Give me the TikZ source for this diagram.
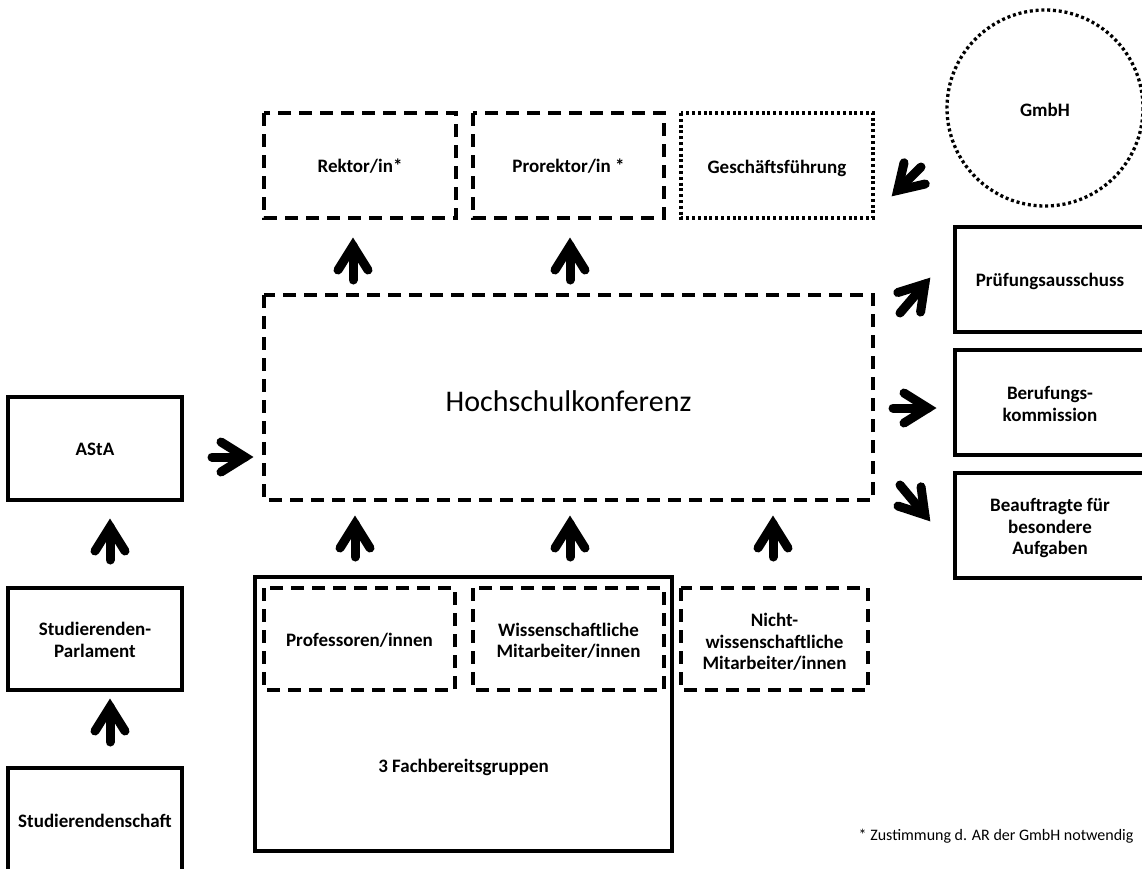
\documentclass[tikz,border=0pt]{standalone}
\usepackage{fontspec}
\setmainfont{Carlito}
\usetikzlibrary{calc}
\newcommand\blockarr[2]{%
  \coordinate (tipc) at ($(#2)!8pt!(#1)$);
  \coordinate (barbc) at ($(tipc)!24pt!(#1)$);
  \draw[blkline,line cap=round] (#1) -- (tipc);
  \draw[blkline,line cap=round,line join=miter] ($(barbc)!15pt!90:(tipc)$) -- (tipc) -- ($(barbc)!15pt!-90:(tipc)$);
}
\begin{document}
\begin{tikzpicture}[x=1pt,y=-1pt,
  box/.style={draw,line width=3.3pt},
  lbl/.style={align=center,font=\bfseries\fontsize{19}{21.5}\selectfont},
  dbox/.style={box,dash pattern=on 13pt off 8pt},
  obox/.style={box,dash pattern=on 3pt off 2.8pt},
  blkline/.style={line width=9pt}
]
\useasboundingbox (0,0) rectangle (1142,868);
\begin{scope}
\clip (0,0) rectangle (1142,868);
% top row
\draw[dbox] (264,113) rectangle (456,218);
\node[lbl] (rek) at (360,166) {Rektor/in*};
\draw[dbox] (473,113) rectangle (664,218);
\node[lbl] (pro) at (568.5,166) {Prorektor/in *};
\draw[obox] (681,113) rectangle (873,218);
\node[lbl] (gf) at (777,168) {Geschäftsführung};
% GmbH
\draw[line width=3.3pt,dash pattern=on 3pt off 2.8pt] (1045,108) circle (98);
\node[lbl] (gmbh) at (1045,110) {GmbH};
% Hochschulkonferenz
\draw[dbox] (264,295) rectangle (873,500);
\node[font=\fontsize{30}{34}\selectfont] (hk) at (568.5,401) {Hochschulkonferenz};
% left column
\draw[box] (8,397) rectangle (182,500);
\node[lbl] (asta) at (95,449) {AStA};
\draw[box] (8,588) rectangle (182,690);
\node[lbl] (sp) at (95,640) {Studierenden-\\Parlament};
\draw[box] (8,768) rectangle (182,880);
\node[lbl] (ss) at (95,821) {Studierendenschaft};
% Fachbereichsgruppen
\draw[box] (255,577) rectangle (672,851);
\node[lbl] (fb) at (463.5,767) {3 Fachbereitsgruppen};
\draw[dbox] (264,588) rectangle (455,690);
\node[lbl] (prof) at (359.5,640) {Professoren/innen};
\draw[dbox] (473,588) rectangle (664,690);
\node[lbl] (wm) at (568.5,641) {Wissenschaftliche\\Mitarbeiter/innen};
\draw[dbox] (681,588) rectangle (868,690);
\node[lbl] (nwm) at (774.5,642) {Nicht-\\wissenschaftliche\\Mitarbeiter/innen};
% right boxes
\draw[box] (955,227) rectangle (1160,332);
\node[lbl] (pa) at (1050,281) {Prüfungsausschuss};
\draw[box] (955,350) rectangle (1160,455);
\node[lbl] (bk) at (1050,404) {Berufungs-\\kommission};
\draw[box] (955,473) rectangle (1160,578);
\node[lbl] (bfa) at (1050,528) {Beauftragte für\\besondere\\Aufgaben};
\end{scope}
% footnote
\node[anchor=east,font=\fontsize{16}{19}\selectfont] (fn) at (1137,836) {* Zustimmung d. AR der GmbH notwendig};
% arrows
\coordinate (a1s) at (353,280); \coordinate (a1e) at (353,238);
\coordinate (a2s) at (570,280); \coordinate (a2e) at (570,238);
\blockarr{a1s}{a1e}
\blockarr{a2s}{a2e}
\coordinate (b1s) at (355,557); \coordinate (b1e) at (355,516);
\coordinate (b2s) at (570,557); \coordinate (b2e) at (570,516);
\coordinate (b3s) at (773,557); \coordinate (b3e) at (773,516);
\blockarr{b1s}{b1e}
\blockarr{b2s}{b2e}
\blockarr{b3s}{b3e}
\coordinate (c1s) at (110,560); \coordinate (c1e) at (110,519);
\coordinate (c2s) at (110,742); \coordinate (c2e) at (110,699);
\blockarr{c1s}{c1e}
\blockarr{c2s}{c2e}
\coordinate (d1s) at (212,457); \coordinate (d1e) at (253,457);
\blockarr{d1s}{d1e}
\coordinate (e1s) at (900,313); \coordinate (e1e) at (930,278);
\coordinate (e2s) at (893,408); \coordinate (e2e) at (936,408);
\coordinate (e3s) at (900,485); \coordinate (e3e) at (930,521);
\blockarr{e1s}{e1e}
\blockarr{e2s}{e2e}
\blockarr{e3s}{e3e}
\coordinate (gs) at (921,167); \coordinate (ge) at (892,196);
\blockarr{gs}{ge}
\end{tikzpicture}
\end{document}
